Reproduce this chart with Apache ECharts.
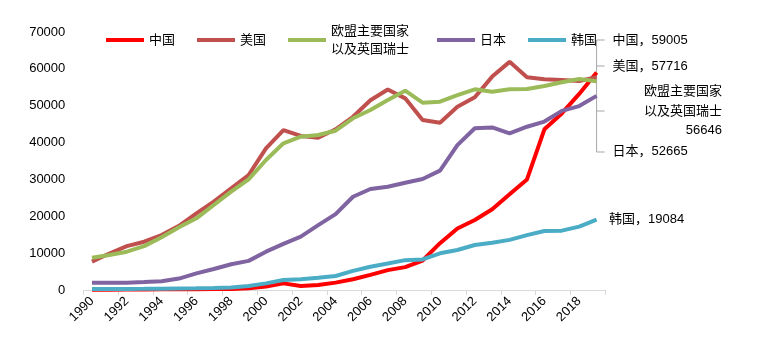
<!DOCTYPE html>
<html>
<head>
<meta charset="utf-8">
<script src="https://cdn.jsdelivr.net/npm/echarts@6/dist/echarts.min.js"></script>
<style>html,body{margin:0;padding:0;background:#fff}#c{width:782px;height:345px}</style>
</head>
<body>
<div id="c"></div>
<script>
var years = ['1990','1991','1992','1993','1994','1995','1996','1997','1998','1999','2000','2001','2002','2003','2004','2005','2006','2007','2008','2009','2010','2011','2012','2013','2014','2015','2016','2017','2018','2019'];
var china = [100,100,120,150,180,200,220,250,300,450,950,1800,1100,1350,2000,2900,4100,5400,6200,8000,12700,16700,19000,21900,26000,30000,43600,47900,53200,59005];
var usa = [7700,9900,11900,13100,14900,17400,20800,24000,27600,31200,38400,43400,41800,41300,43600,47000,51500,54400,52000,46100,45400,49700,52300,57900,61900,57700,57200,57000,56700,57716];
var eu = [8760,9500,10400,11900,14300,17000,19450,23060,26670,30030,35270,39800,41600,42050,43220,46580,48830,51550,54070,50820,51090,52900,54450,53800,54450,54530,55350,56350,57240,56646];
var japan = [1980,2000,2000,2150,2350,3100,4500,5700,7000,7900,10400,12500,14500,17600,20600,25300,27400,28000,29100,30100,32400,39300,43900,44100,42500,44300,45700,48600,49900,52665];
var korea = [300,300,300,320,350,400,450,550,700,1100,1800,2700,2900,3300,3800,5200,6300,7200,8100,8300,9950,10850,12200,12800,13600,14900,16000,16100,17200,19084];
var yTicks = [0,10000,20000,30000,40000,50000,60000,70000];

var FONT = '"Liberation Sans","Noto Sans CJK SC",sans-serif';
var EU_NAME = '欧盟主要国家以及英国瑞士';

function mkData(arr, labelCfg) {
  return arr.map(function (v, i) {
    if (i === arr.length - 1) {
      return { value: v, label: Object.assign({ show: true, position: 'right', color: '#000', fontSize: 13, fontFamily: FONT }, labelCfg) };
    }
    return v;
  });
}
function mkSeries(name, arr, color, labelCfg) {
  return {
    name: name, type: 'line', data: mkData(arr, labelCfg),
    symbol: 'circle', symbolSize: 0, showSymbol: true,
    lineStyle: { color: color, width: 4 }, itemStyle: { color: color },
    label: { show: false }, emphasis: { disabled: true }, animation: false, z: 2
  };
}

var chart = echarts.init(document.getElementById('c'), null, { renderer: 'canvas' });
chart.setOption({
  animation: false,
  backgroundColor: '#fff',
  grid: { left: 83.3, right: 176.7, top: 32, bottom: 55 },
  legend: {
    left: 106, top: 13, padding: 0, icon: 'rect', itemWidth: 38, itemHeight: 4, itemGap: 22,
    textStyle: { fontSize: 13, color: '#000', fontFamily: FONT },
    formatter: function (n) { return n === EU_NAME ? '欧盟主要国家\n以及英国瑞士' : n; },
    data: ['中国', '美国', { name: EU_NAME, textStyle: { lineHeight: 18, padding: [18, 0, 0, 0], width: 84 } }, '日本', '韩国']
  },
  xAxis: {
    type: 'category', data: years, boundaryGap: true,
    axisLine: { lineStyle: { color: '#D9D9D9', width: 1 } },
    axisTick: { show: true, interval: 1, length: 5, lineStyle: { color: '#D9D9D9' } },
    axisLabel: { interval: 1, rotate: 45, fontSize: 13, color: '#000', fontFamily: FONT, margin: 9 },
    splitLine: { show: false }
  },
  yAxis: {
    type: 'value', min: yTicks[0], max: yTicks[yTicks.length - 1], interval: yTicks[1] - yTicks[0],
    axisLine: { show: false }, axisTick: { show: false }, splitLine: { show: false },
    axisLabel: { fontSize: 13, color: '#000', fontFamily: FONT, margin: 18, formatter: function (v) { return String(v); } }
  },
  series: [
    mkSeries('中国', china, '#FF0000', { formatter: '中国，{c}', offset: [11, -32.5] }),
    mkSeries('美国', usa, '#C0504D', { formatter: '美国，{c}', offset: [11, -11] }),
    mkSeries(EU_NAME, eu, '#9BBB59', { formatter: '欧盟主要国家\n以及英国瑞士\n{c}', align: 'right', lineHeight: 19.5, offset: [120.4, 29.8] }),
    mkSeries('日本', japan, '#8064A2', { formatter: '日本，{c}', offset: [11, 56] }),
    mkSeries('韩国', korea, '#4BACC6', { formatter: '韩国，{c}', offset: [7.4, 0] })
  ]
});

// leader bracket for the top-right labels
var px = chart.convertToPixel({ xAxisIndex: 0 }, years[years.length - 1]);
var stubY = [40, 66, 111, 152];
var els = [{ type: 'line', shape: { x1: px, y1: stubY[0], x2: px, y2: stubY[3] }, style: { stroke: '#A6A6A6', lineWidth: 1 } }];
stubY.forEach(function (y) {
  els.push({ type: 'line', shape: { x1: px, y1: y, x2: px + 8, y2: y }, style: { stroke: '#A6A6A6', lineWidth: 1 } });
});
chart.setOption({ graphic: els });
</script>
</body>
</html>
